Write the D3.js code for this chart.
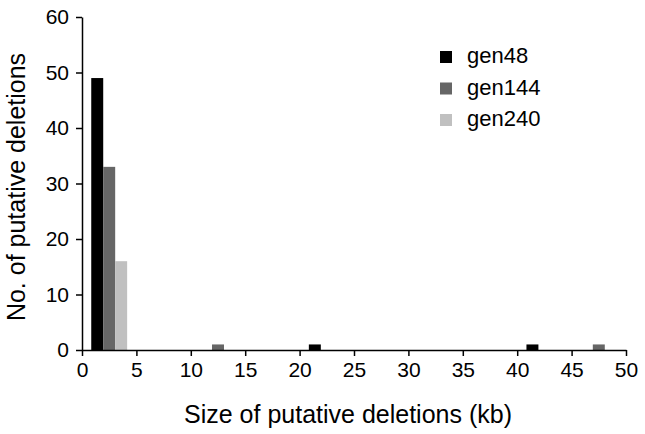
<!DOCTYPE html>
<html>
<head>
<meta charset="utf-8">
<script src="https://cdn.jsdelivr.net/npm/d3@7"></script>
<style>
  body { margin: 0; background: #fff; }
  text { font-family: "Liberation Sans", Arial, sans-serif; }
</style>
</head>
<body>
<div id="chart"></div>
<script>
// bins of 5 kb: 0-5, 5-10, ... 45-50
const bins = ["0-5", "5-10", "10-15", "15-20", "20-25", "25-30", "30-35", "35-40", "40-45", "45-50"];
const seriesNames = ["gen48", "gen144", "gen240"];
const gen48 = [49, 0, 0, 0, 1, 0, 0, 0, 1, 0];
const gen144 = [33, 0, 1, 0, 0, 0, 0, 0, 0, 1];
const gen240 = [16, 0, 0, 0, 0, 0, 0, 0, 0, 0];
const xTicks = [0, 5, 10, 15, 20, 25, 30, 35, 40, 45, 50];
const yTicks = [0, 10, 20, 30, 40, 50, 60];

const colors = { gen48: "#000000", gen144: "#666666", gen240: "#c0c0c0" };
const seriesData = { gen48: gen48, gen144: gen144, gen240: gen240 };

const width = 645, height = 434;
const margin = { top: 17, right: 19, bottom: 84, left: 82 };

var svg = d3.select("#chart").append("svg").attr("width", width).attr("height", height);
var g = svg.append("g").attr("transform", "translate(" + margin.left + "," + margin.top + ")");

const w = width - margin.left - margin.right, h = height - margin.top - margin.bottom;

var x = d3.scaleLinear().domain([0, 50]).range([0, w]);
var y = d3.scaleLinear().domain([0, 60]).range([h, 0]);

// each bin holds a group of three bars
var xBin = d3.scaleBand().domain(bins).range([0, w]).paddingInner(0.34).paddingOuter(0.17);
var xSub = d3.scaleBand().domain(seriesNames).range([0, xBin.bandwidth()]);

var rows = bins.map(function (b, i) {
    return { bin: b, values: seriesNames.map(function (s) { return { key: s, value: seriesData[s][i] }; }) };
});

g.selectAll("g.bin").data(rows).enter().append("g")
    .attr("class", "bin")
    .attr("transform", function (d) { return "translate(" + xBin(d.bin) + ",0)"; })
    .selectAll("rect").data(function (d) { return d.values; }).enter().append("rect")
    .attr("x", function (d) { return xSub(d.key); })
    .attr("y", function (d) { return y(d.value); })
    .attr("width", xSub.bandwidth())
    .attr("height", function (d) { return h - y(d.value); })
    .attr("fill", function (d) { return colors[d.key]; });

var xAxis = g.append("g").attr("transform", "translate(0," + h + ")")
    .call(d3.axisBottom(x).tickValues(xTicks).tickSize(6).tickPadding(6).tickSizeOuter(0));
var yAxis = g.append("g")
    .call(d3.axisLeft(y).tickValues(yTicks).tickSize(6).tickPadding(7).tickSizeOuter(0));

[xAxis, yAxis].forEach(function (a) {
    a.select(".domain").attr("stroke", "#000").attr("stroke-width", 1.5);
    a.selectAll(".tick line").attr("stroke", "#000").attr("stroke-width", 1.5);
    a.selectAll(".tick text").attr("fill", "#000").style("font-size", "21px")
        .style("font-family", "'Liberation Sans', Arial, sans-serif");
});

svg.append("text")
    .attr("x", 348)
    .attr("y", 423)
    .attr("text-anchor", "middle")
    .style("font-size", "25px")
    .text("Size of putative deletions (kb)");

svg.append("text")
    .attr("transform", "translate(25," + 187 + ") rotate(-90)")
    .attr("text-anchor", "middle")
    .style("font-size", "25px")
    .text("No. of putative deletions");

// legend
var legend = svg.append("g").attr("transform", "translate(440,51)");
var items = legend.selectAll("g").data(seriesNames).enter().append("g")
    .attr("transform", function (d, i) { return "translate(0," + i * 31.5 + ")"; });
items.append("rect").attr("width", 12).attr("height", 12).attr("fill", function (d) { return colors[d]; });
items.append("text").attr("x", 27).attr("y", 12).style("font-size", "22px").text(function (d) { return d; });
</script>
</body>
</html>
